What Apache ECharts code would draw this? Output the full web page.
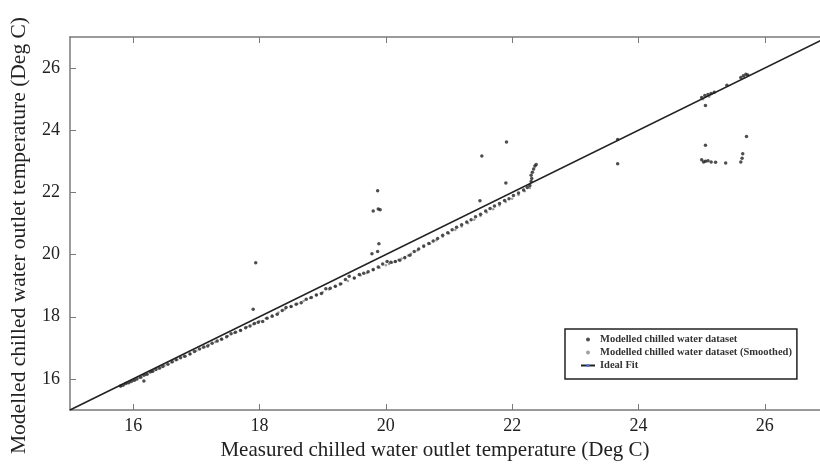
<!DOCTYPE html>
<html>
<head>
<meta charset="utf-8">
<script src="https://cdn.jsdelivr.net/npm/echarts@6/dist/echarts.min.js"></script>
<style>
  html, body { margin: 0; background: #fff; }
  #chart { width: 820px; height: 466px; }
</style>
</head>
<body>
<div id="chart"></div>
<script>
// tick labels on both axes
const xTicks = [16, 18, 20, 22, 24, 26];
const yTicks = [16, 18, 20, 22, 24, 26];

// modelled chilled water dataset (dark dots)
const modelledX = [
  15.80, 15.84, 15.88, 15.93, 15.97, 16.02, 16.06, 16.12, 16.17, 16.22, 16.27, 16.31, 16.36, 16.42, 16.47,
  16.55, 16.62, 16.68, 16.75, 16.82, 16.90, 16.97, 17.05, 17.12, 17.18, 17.25, 17.33, 17.40, 17.48, 17.55,
  17.62, 17.70, 17.78, 17.85, 17.92, 17.98, 18.05, 18.12, 18.20, 18.28, 18.36, 18.42, 18.50, 18.58, 18.66,
  18.74, 18.82, 18.90, 18.98, 19.05, 19.12, 19.20, 19.28, 19.36, 19.42, 19.50, 19.58, 19.65, 19.72, 19.80,
  19.88, 19.95, 20.02, 20.08, 20.15, 20.22, 20.30, 20.38, 20.45, 20.52, 20.60, 20.68, 20.75, 20.82, 20.90,
  20.98, 21.05, 21.12, 21.20, 21.28, 21.35, 21.42, 21.50, 21.58, 21.65, 21.72, 21.80, 21.88, 21.95, 22.02,
  22.10, 22.18, 22.24, 22.28,
  22.30, 22.31, 22.30, 22.32, 22.34, 22.36, 22.38,
  16.17, 17.90, 17.94, 19.78, 19.87, 19.89, 19.80, 19.88, 19.91, 19.87, 21.49, 21.52, 21.90, 21.91,
  23.67, 23.67,
  25.00, 25.05, 25.10, 25.15, 25.20, 25.40, 25.62, 25.66, 25.70, 25.73, 25.06, 25.71, 25.06,
  25.00, 25.03, 25.06, 25.10, 25.15, 25.22, 25.38, 25.65, 25.64, 25.62
];
const modelledY = [
  15.77, 15.80, 15.85, 15.88, 15.92, 15.96, 16.00, 16.05, 16.12, 16.15, 16.22, 16.25, 16.30, 16.35, 16.40,
  16.47, 16.55, 16.62, 16.68, 16.73, 16.80, 16.88, 16.96, 17.03, 17.06, 17.15, 17.22, 17.28, 17.36, 17.45,
  17.50, 17.56, 17.65, 17.70, 17.78, 17.82, 17.85, 17.95, 18.02, 18.08, 18.20, 18.30, 18.33, 18.40, 18.45,
  18.56, 18.62, 18.70, 18.75, 18.90, 18.92, 18.98, 19.05, 19.20, 19.30, 19.25, 19.36, 19.40, 19.45, 19.52,
  19.60, 19.70, 19.78, 19.75, 19.78, 19.82, 19.90, 19.98, 20.10, 20.18, 20.28, 20.36, 20.44, 20.52, 20.62,
  20.70, 20.80, 20.88, 20.96, 21.05, 21.12, 21.22, 21.30, 21.40, 21.48, 21.56, 21.64, 21.74, 21.80, 21.90,
  21.98, 22.08, 22.16, 22.22,
  22.35, 22.45, 22.55, 22.65, 22.75, 22.85, 22.90,
  15.93, 18.24, 19.74, 20.03, 20.10, 20.35, 21.40, 21.47, 21.44, 22.05, 21.73, 23.17, 22.30, 23.62,
  22.92, 23.70,
  25.05, 25.12, 25.15, 25.18, 25.22, 25.45, 25.70, 25.75, 25.80, 25.78, 24.80, 23.80, 23.52,
  23.05, 22.98, 23.00, 23.02, 22.98, 22.97, 22.95, 23.24, 23.10, 22.98
];

// modelled chilled water dataset (smoothed), small grey dots
const smoothX = [
  15.80, 15.90, 16.00, 16.10, 16.20, 16.30, 16.40, 16.50, 16.60, 16.70, 16.80, 16.90, 17.00, 17.10, 17.20,
  17.30, 17.40, 17.50, 17.60, 17.70, 17.80, 17.90, 18.00, 18.10, 18.20, 18.30, 18.40, 18.50, 18.60, 18.70,
  18.80, 18.90, 19.00, 19.10, 19.20, 19.30, 19.40, 19.50, 19.60, 19.70, 19.80, 19.90, 20.00, 20.05, 20.10,
  20.15, 20.20, 20.25, 20.30, 20.35, 20.40, 20.50, 20.60, 20.70, 20.80, 20.90, 21.00, 21.10, 21.20, 21.30,
  21.40, 21.50, 21.60, 21.70, 21.80, 21.90, 22.00, 22.10, 22.20, 22.28,
  25.02, 25.12, 25.68
];
const smoothY = [
  15.76, 15.85, 15.95, 16.04, 16.14, 16.24, 16.33, 16.43, 16.53, 16.62, 16.72, 16.81, 16.91, 17.00, 17.10,
  17.19, 17.29, 17.38, 17.48, 17.57, 17.67, 17.76, 17.86, 17.95, 18.04, 18.14, 18.23, 18.32, 18.42, 18.51,
  18.60, 18.70, 18.79, 18.88, 18.97, 19.06, 19.15, 19.24, 19.33, 19.41, 19.50, 19.58, 19.66, 19.70, 19.74,
  19.78, 19.83, 19.87, 19.92, 19.97, 20.03, 20.13, 20.24, 20.35, 20.46, 20.57, 20.68, 20.79, 20.90, 21.01,
  21.12, 21.24, 21.35, 21.46, 21.58, 21.69, 21.80, 21.92, 22.04, 22.14,
  25.00, 25.08, 25.70
];

// ideal fit y = x
const idealX = [15, 27];
const idealY = [15, 27];

const font = "Liberation Serif";
const axisColor = "#7a7a7a";

function pairs(xs, ys) {
  return xs.map((x, i) => [x, ys[i]]);
}

const chart = echarts.init(document.getElementById("chart"));

const option = {
  animation: false,
  backgroundColor: "#fff",
  grid: {
    left: 70,
    top: 37,
    bottom: 56,
    right: -8,
    outerBoundsMode: "none",
  },
  legend: {
    orient: "vertical",
    left: 565,
    top: 329,
    padding: [5, 5, 8, 15],
    itemGap: 2,
    itemWidth: 14,
    itemHeight: 4,
    borderColor: "#222",
    borderWidth: 1.5,
    backgroundColor: "#fff",
    textStyle: {
      fontFamily: font,
      fontSize: 10.5,
      fontWeight: "bold",
      color: "#333",
    },
    data: [
      { name: "Modelled chilled water dataset", icon: "circle" },
      { name: "Modelled chilled water dataset (Smoothed)", icon: "circle" },
      { name: "Ideal Fit" },
    ],
  },
  xAxis: [
    {
      type: "value",
      min: 15,
      max: 27,
      position: "bottom",
      name: "Measured chilled water outlet temperature (Deg C)",
      nameLocation: "middle",
      nameGap: 22,
      nameTextStyle: { fontFamily: font, fontSize: 21, color: "#222", padding: [0, 28, 0, 0] },
      axisLine: { lineStyle: { color: axisColor, width: 1.5 } },
      axisTick: { inside: true, length: 6, customValues: xTicks, lineStyle: { color: axisColor } },
      axisLabel: { customValues: xTicks, fontFamily: font, fontSize: 18, color: "#222", margin: 7 },
      splitLine: { show: false },
    },
    {
      type: "value",
      min: 15,
      max: 27,
      position: "top",
      axisLine: { lineStyle: { color: axisColor, width: 1.5 } },
      axisTick: { inside: true, length: 6, customValues: xTicks, lineStyle: { color: axisColor } },
      axisLabel: { show: false },
      splitLine: { show: false },
    },
  ],
  yAxis: [
    {
      type: "value",
      min: 15,
      max: 27,
      position: "left",
      name: "Modelled chilled water outlet temperature (Deg C)",
      nameLocation: "middle",
      nameGap: 40,
      nameTextStyle: { fontFamily: font, fontSize: 21.5, color: "#222", padding: [0, 24, 0, 0] },
      axisLine: { lineStyle: { color: axisColor, width: 1.5 } },
      axisTick: { inside: true, length: 6, customValues: yTicks, lineStyle: { color: axisColor } },
      axisLabel: { customValues: yTicks, fontFamily: font, fontSize: 18, color: "#222", margin: 10 },
      splitLine: { show: false },
    },
  ],
  series: [
    {
      name: "Modelled chilled water dataset (Smoothed)",
      type: "scatter",
      data: pairs(smoothX, smoothY),
      symbolSize: 2.5,
      itemStyle: { color: "#8a8a8a" },
    },
    {
      name: "Modelled chilled water dataset",
      type: "scatter",
      data: pairs(modelledX, modelledY),
      symbolSize: 3.5,
      itemStyle: { color: "#222" },
    },
    {
      name: "Ideal Fit",
      type: "line",
      data: pairs(idealX, idealY),
      symbol: "none",
      lineStyle: { color: "#222", width: 1.6 },
      z: 3,
    },
  ],
};

chart.setOption(option);
</script>
</body>
</html>
